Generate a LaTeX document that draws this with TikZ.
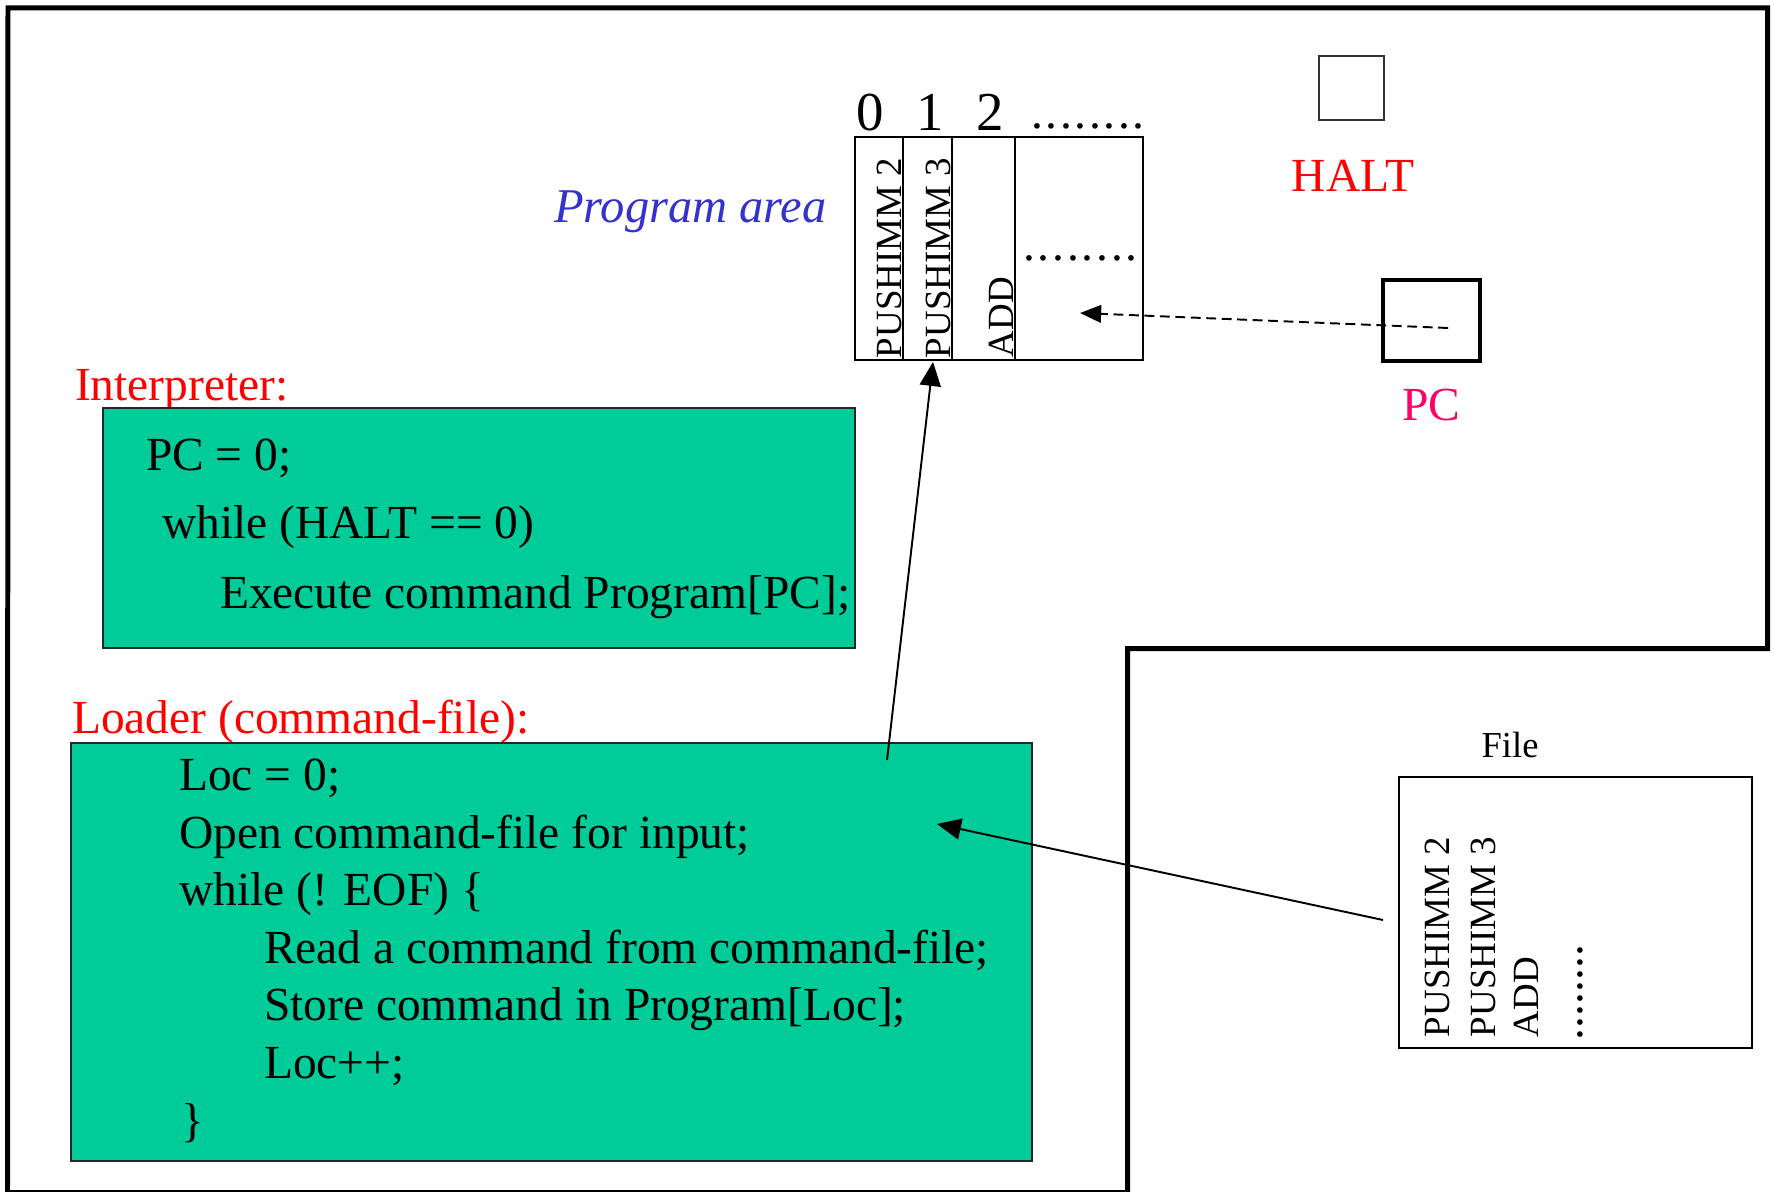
\documentclass[tikz,border=0pt]{standalone}
\usepackage{fontspec}
\setmainfont{Liberation Serif}
\usetikzlibrary{arrows.meta}
\definecolor{codegreen}{RGB}{0,204,153}
\definecolor{areablue}{RGB}{51,51,204}
\definecolor{pcpink}{RGB}{255,0,102}
\begin{document}
\begin{tikzpicture}[x=0.01cm,y=-0.01cm,
  box/.style={draw, line width=0.5pt, inner sep=0pt, outer sep=0pt},
  codebox/.style={box, fill=codegreen, draw=black!85},
  txt/.style={inner sep=0pt, outer sep=0pt, anchor=base west, font=\fontsize{13.5}{16}\selectfont},
  lbl/.style={txt, text=red},
  rot/.style={inner sep=0pt, outer sep=0pt, rotate=90, anchor=base west, font=\fontsize{10.5}{12}\selectfont},
  num/.style={inner sep=0pt, anchor=base, font=\fontsize{15.6}{18}\selectfont},
  arr/.style={-{Triangle[length=6.8pt,width=6pt]}, line width=0.55pt},
  dasharr/.style={-{Triangle[length=6pt,width=5pt]}, line width=0.55pt, dash pattern=on 2.8pt off 1.6pt}]
\useasboundingbox (0,0) rectangle (1774,1191);
% outer frame
\draw[line width=1.42pt, line join=miter] (8,8) -- (1767.5,8) -- (1767.5,648.5) -- (1127.5,648.5) -- (1127.5,1192.5) -- (7.5,1192.5) -- cycle;

% program area cells
\node[box, minimum width=0.48cm, minimum height=2.23cm] (cell0) at (879,248.5) {};
\node[box, minimum width=0.49cm, minimum height=2.23cm] (cell1) at (927.5,248.5) {};
\node[box, minimum width=0.63cm, minimum height=2.23cm] (cell2) at (983.5,248.5) {};
\node[box, minimum width=1.28cm, minimum height=2.23cm] (cell3) at (1079,248.5) {};
\node[rot] (c0t) at (901,358) {PUSHIMM 2};
\node[rot] (c1t) at (950,358) {PUSHIMM 3};
\node[rot] (c2t) at (1013,357) {ADD};
\node[txt] (c3t) at (1023,260) {.\kern0.8pt.\kern0.8pt.\kern0.8pt.\kern0.8pt.\kern0.8pt.\kern0.8pt.\kern0.8pt.};
\node[num] (n0) at (870,130) {0};
\node[num] (n1) at (930,130) {1};
\node[num] (n2) at (990,130) {2};
\node[txt] (ndots) at (1031,129) {.\kern0.75pt.\kern0.75pt.\kern0.75pt.\kern0.75pt.\kern0.75pt.\kern0.75pt.\kern0.75pt.};
\node[txt, text=areablue, font=\fontsize{13.8}{16}\selectfont\itshape] (parea) at (554,222) {Program area};

% HALT and PC
\node[box, line width=0.45pt, draw=black!80, minimum width=0.65cm, minimum height=0.64cm] (halt) at (1351.5,88) {};
\node[txt, anchor=base, text=red] (haltl) at (1353,192) {HALT};
\node[box, line width=0.9pt, minimum width=0.97cm, minimum height=0.81cm] (pc) at (1431.5,320.5) {};
\node[txt, anchor=base, text=pcpink] (pcl) at (1431.5,420) {PC};
\coordinate (pcptr) at (1448,328);
\coordinate (celltarget) at (1080,313);
\draw[dasharr] (pcptr) -- (celltarget);

% interpreter
\node[lbl] (interl) at (75,400) {Interpreter:};
\node[codebox, minimum width=7.52cm, minimum height=2.40cm] (interp) at (479,528) {};
\node[txt] (i1) at (146,470) {PC = 0;};
\node[txt] (i2) at (162,538) {while (HALT == 0)};
\node[txt] (i3) at (220,608) {Execute command Program[PC];};

% loader
\node[lbl] (loadl) at (72,733) {Loader (command-file):};
\node[codebox, minimum width=9.61cm, minimum height=4.18cm] (loader) at (551.5,952) {};
\node[txt] (l1) at (179,790) {Loc = 0;};
\node[txt] (l2) at (179,848) {Open command-file for input;};
\node[txt] (l3) at (179,905) {while (! EOF) \{};
\node[txt] (l4) at (264,963) {Read a command from command-file;};
\node[txt] (l5) at (264,1020) {Store command in Program[Loc];};
\node[txt] (l6) at (264,1078) {Loc++;};
\node[txt] (l7) at (181,1136) {\}};

% file
\node[txt, anchor=base, font=\fontsize{10.4}{12}\selectfont] (filel) at (1510,757) {File};
\node[box, minimum width=3.53cm, minimum height=2.71cm] (file) at (1575.5,912.5) {};
\node[rot] (f1) at (1449,1037) {PUSHIMM 2};
\node[rot] (f2) at (1495,1037) {PUSHIMM 3};
\node[rot] (f3) at (1538,1037) {ADD};
\node[rot, font=\fontsize{13.5}{16}\selectfont] (f4) at (1582,1040) {........};

% connectors
\coordinate (ldsrc) at (887,760);
\coordinate (c1tip) at (933,362);
\draw[arr] (ldsrc) -- (c1tip);
\coordinate (filesrc) at (1383,920);
\coordinate (ldtip) at (937,824);
\draw[arr] (filesrc) -- (ldtip);
\end{tikzpicture}
\end{document}
